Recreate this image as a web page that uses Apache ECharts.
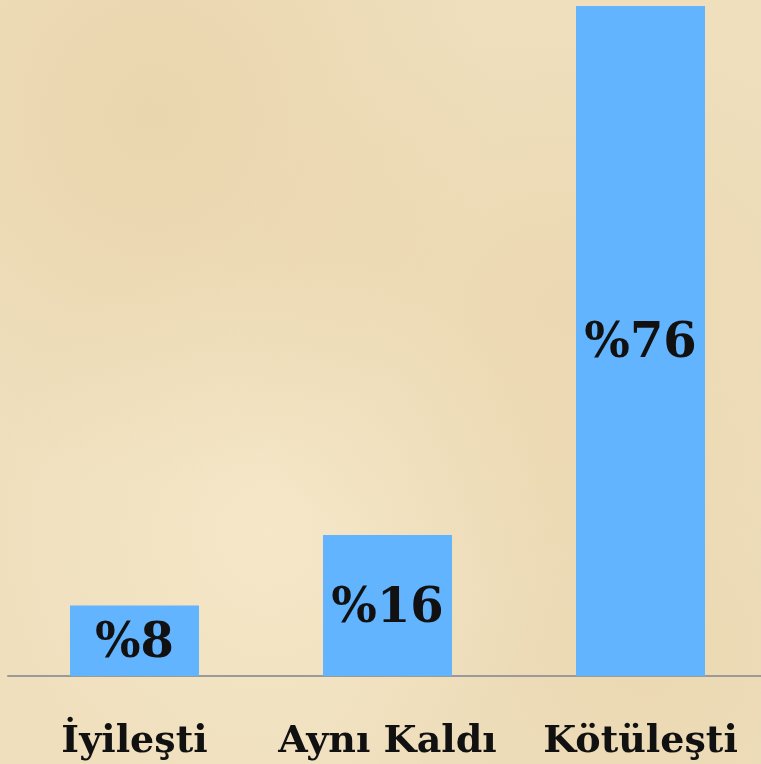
<!DOCTYPE html>
<html>
<head>
<meta charset="utf-8">
<script src="https://cdn.jsdelivr.net/npm/echarts@6/dist/echarts.min.js"></script>
<style>
  html, body { margin: 0; padding: 0; }
  body {
    width: 761px; height: 764px; overflow: hidden;
    background-color: #efdfbd;
    background-image:
      radial-gradient(ellipse at 20% 15%, rgba(226,200,150,0.4), transparent 40%),
      radial-gradient(ellipse at 75% 40%, rgba(230,205,158,0.35), transparent 45%),
      radial-gradient(ellipse at 35% 70%, rgba(250,238,210,0.5), transparent 40%),
      radial-gradient(ellipse at 85% 85%, rgba(228,204,160,0.35), transparent 35%);
  }
  /* a bit wider than the window so the last band runs past the right edge */
  #chart { width: 767px; height: 764px; }
</style>
</head>
<body>
<div id="chart"></div>
<script>
// chart values
const categories = ['İyileşti', 'Aynı Kaldı', 'Kötüleşti'];
const values = [8, 16, 76];

const chart = echarts.init(document.getElementById('chart'), null, { renderer: 'canvas' });

chart.setOption({
  backgroundColor: 'transparent',
  animation: false,
  grid: { left: 8, right: 0, top: 6, bottom: 88 },
  xAxis: {
    type: 'category',
    data: categories,
    axisLine: { lineStyle: { color: '#9a9a9a', width: 2 } },
    axisTick: { show: false },
    axisLabel: {
      interval: 0,
      margin: 47,
      color: '#111',
      fontFamily: 'DejaVu Serif',
      fontWeight: 'bold',
      fontSize: 38
    }
  },
  yAxis: {
    type: 'value',
    min: 0,
    max: 76,
    show: false,
    splitLine: { show: false }
  },
  series: [{
    type: 'bar',
    data: values,
    barWidth: 129,
    itemStyle: { color: '#62b4ff' },
    label: {
      show: true,
      position: 'inside',
      offset: [0, 4],
      formatter: p => '%' + p.value,
      color: '#111',
      fontFamily: 'DejaVu Serif',
      fontWeight: 'bold',
      fontSize: 48
    }
  }]
});
</script>
</body>
</html>
